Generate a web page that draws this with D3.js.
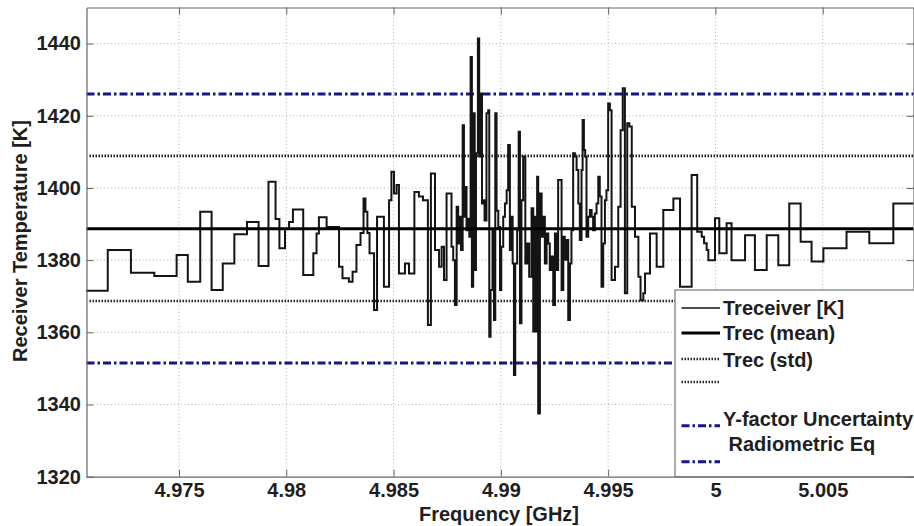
<!DOCTYPE html>
<html>
<head>
<meta charset="utf-8">
<script src="https://cdn.jsdelivr.net/npm/d3@7"></script>
<style>
  body { margin: 0; background: #fff; }
  text { font-family: "Liberation Sans", Arial, sans-serif; font-weight: bold; fill: #1e1e1e; }
</style>
</head>
<body>
<svg id="chart" width="914" height="526"></svg>
<script>
'use strict'

// frequency [GHz] at the start of each step, receiver temperature [K]
var freq = [
  4.97067, 4.97168, 4.97276, 4.97385, 4.97489, 4.97541, 4.97599, 4.97652, 4.97704, 4.97758,
  4.97817, 4.97871, 4.97917, 4.97950, 4.97968, 4.97994, 4.98013, 4.98031, 4.98079, 4.98126,
  4.98141, 4.98152, 4.98188, 4.98246, 4.98262, 4.98292, 4.98309, 4.98327, 4.98346, 4.98360,
  4.98369, 4.98378, 4.98388, 4.98409, 4.98423, 4.98455, 4.98479, 4.98490, 4.98502, 4.98514,
  4.98525, 4.98553, 4.98572, 4.98597, 4.98618, 4.98637, 4.98660, 4.98674, 4.98693, 4.98712,
  4.98724, 4.98735, 4.98747, 4.98770, 4.98778, 4.98786, 4.98794, 4.98801, 4.98809, 4.98814,
  4.98822, 4.98828, 4.98834, 4.98840, 4.98846, 4.98853, 4.98859, 4.98865, 4.98871, 4.98878,
  4.98884, 4.98893, 4.98899, 4.98905, 4.98912, 4.98918, 4.98924, 4.98933, 4.98941, 4.98946,
  4.98952, 4.98961, 4.98968, 4.98974, 4.98980, 4.98988, 4.98996, 4.99002, 4.99011, 4.99019,
  4.99027, 4.99034, 4.99042, 4.99048, 4.99055, 4.99061, 4.99067, 4.99076, 4.99083, 4.99089,
  4.99096, 4.99104, 4.99114, 4.99123, 4.99132, 4.99143, 4.99151, 4.99157, 4.99163, 4.99169,
  4.99174, 4.99182, 4.99190, 4.99197, 4.99205, 4.99213, 4.99221, 4.99228, 4.99236, 4.99244,
  4.99252, 4.99260, 4.99267, 4.99283, 4.99291, 4.99298, 4.99306, 4.99314, 4.99322, 4.99329,
  4.99337, 4.99345, 4.99353, 4.99361, 4.99368, 4.99376, 4.99381, 4.99387, 4.99393, 4.99399,
  4.99407, 4.99415, 4.99423, 4.99430, 4.99438, 4.99446, 4.99454, 4.99461, 4.99469, 4.99477,
  4.99485, 4.99492, 4.99500, 4.99508, 4.99516, 4.99532, 4.99547, 4.99558, 4.99568, 4.99578,
  4.99589, 4.99599, 4.99610, 4.99625, 4.99641, 4.99651, 4.99664, 4.99672, 4.99695, 4.99726,
  4.99757, 4.99804, 4.99835, 4.99889, 4.99915, 4.99936, 4.99947, 4.99959, 4.99967, 4.99998,
  5.00018, 5.00052, 5.00075, 5.00138, 5.00184, 5.00239, 5.00293, 5.00344, 5.00397, 5.00448,
  5.00503, 5.00611, 5.00717, 5.00829, 5.00923
]
var treceiver = [
  1371.5, 1382.8, 1376.5, 1375.6, 1381.4, 1374.0, 1393.4, 1371.7, 1379.1, 1387.2,
  1390.6, 1378.4, 1401.7, 1391.4, 1383.3, 1388.6, 1390.6, 1394.0, 1375.9, 1381.9,
  1387.4, 1391.9, 1389.2, 1378.2, 1375.0, 1374.0, 1376.8, 1384.2, 1387.5, 1397.1,
  1393.4, 1387.5, 1381.9, 1366.2, 1392.0, 1372.6, 1396.6, 1404.5, 1398.5, 1400.8,
  1376.3, 1379.1, 1376.3, 1398.9, 1397.6, 1396.6, 1362.0, 1404.0, 1382.8, 1378.2,
  1383.7, 1374.5, 1398.5, 1383.7, 1380.0, 1367.6, 1394.8, 1384.6, 1392.0, 1382.8,
  1417.4, 1392.0, 1400.3, 1388.3, 1391.5, 1386.5, 1436.3, 1372.6, 1420.7, 1377.3,
  1409.6, 1441.4, 1408.7, 1426.2, 1395.7, 1396.6, 1391.0, 1420.7, 1421.5, 1358.8,
  1371.7, 1388.3, 1363.4, 1420.7, 1393.7, 1389.2, 1371.7, 1383.7, 1392.0, 1395.7,
  1399.4, 1411.9, 1382.8, 1392.0, 1379.1, 1348.2, 1379.1, 1388.3, 1415.6, 1362.5,
  1396.6, 1408.7, 1379.1, 1384.6, 1375.4, 1394.4, 1360.2, 1392.0, 1360.2, 1403.1,
  1337.5, 1398.5, 1386.5, 1392.0, 1379.1, 1387.4, 1384.6, 1377.3, 1381.0, 1367.6,
  1387.4, 1377.3, 1402.2, 1371.7, 1386.5, 1380.1, 1385.6, 1363.4, 1379.1, 1388.3,
  1409.6, 1408.7, 1405.0, 1395.7, 1385.6, 1405.0, 1418.8, 1410.5, 1408.7, 1386.5,
  1392.0, 1393.9, 1392.0, 1388.3, 1392.9, 1395.7, 1403.1, 1397.6, 1372.6, 1384.6,
  1396.6, 1399.4, 1423.4, 1421.5, 1374.5, 1378.2, 1394.8, 1416.0, 1427.6, 1370.8,
  1417.9, 1417.0, 1394.8, 1386.5, 1375.4, 1368.9, 1370.8, 1376.3, 1387.4, 1378.2,
  1393.9, 1397.1, 1372.6, 1403.6, 1387.9, 1386.5, 1384.7, 1382.8, 1380.0, 1391.6,
  1381.9, 1390.2, 1380.0, 1386.9, 1377.3, 1386.9, 1378.6, 1395.7, 1385.1, 1379.6,
  1383.3, 1387.9, 1384.7, 1395.7, 1395.7
]

var trecMean = [1388.7]
var trecStd = [1368.7, 1408.9]
var yFactor = [1351.5, 1426.0]

var xTicks = [4.975, 4.98, 4.985, 4.99, 4.995, 5, 5.005]
var xTickLabels = ['4.975', '4.98', '4.985', '4.99', '4.995', '5', '5.005']
var yTicks = [1320, 1340, 1360, 1380, 1400, 1420, 1440]

var legendLabels = [['Treceiver [K]'], ['Trec (mean)'], ['Trec (std)'], [], ['Y-factor Uncertainty', ' Radiometric Eq'], []]

var svg = d3.select('#chart')
var pLeft = 86.5
var pRight = 913.5
var pTop = 7.5
var pBottom = 476.7

var x = d3.scaleLinear().domain([4.97069, 5.00923]).range([pLeft, pRight])
var y = d3.scaleLinear().domain([1320, 1450]).range([pBottom, pTop])

var navy = '#16168a'
var fontSize = '20px'
var stdDash = '1.5,1.5'

// grid
var grid = svg.append('g')
grid.selectAll('.vg').data(xTicks).join('line')
  .attr('x1', d => x(d)).attr('x2', d => x(d))
  .attr('y1', pTop).attr('y2', pBottom)
  .attr('stroke', '#b0b0b0').attr('stroke-width', 1).attr('stroke-dasharray', '1,2.5')
grid.selectAll('.hg').data(yTicks.slice(1)).join('line')
  .attr('x1', pLeft).attr('x2', pRight)
  .attr('y1', d => y(d)).attr('y2', d => y(d))
  .attr('stroke', '#b0b0b0').attr('stroke-width', 1).attr('stroke-dasharray', '1,2.5')

var plot = svg.append('g')

// reference levels
plot.selectAll('.std').data(trecStd).join('line')
  .attr('x1', pLeft + 3).attr('x2', pRight)
  .attr('y1', d => y(d)).attr('y2', d => y(d))
  .attr('stroke', '#222').attr('stroke-width', 2.6).attr('stroke-dasharray', stdDash)

plot.selectAll('.yf').data(yFactor).join('line')
  .attr('x1', pLeft).attr('x2', pRight)
  .attr('y1', d => y(d)).attr('y2', d => y(d))
  .attr('stroke', navy).attr('stroke-width', 3).attr('stroke-dasharray', '8,3,2.5,3')

var pts = freq.map((f, i) => [f, treceiver[i]])
var line = d3.line().x(d => x(d[0])).y(d => y(d[1])).curve(d3.curveStepAfter)
plot.append('path')
  .datum(pts)
  .attr('d', line)
  .attr('fill', 'none')
  .attr('stroke', '#141414')
  .attr('stroke-width', 2)

plot.selectAll('.mean').data(trecMean).join('line')
  .attr('x1', pLeft).attr('x2', pRight)
  .attr('y1', d => y(d)).attr('y2', d => y(d))
  .attr('stroke', '#000').attr('stroke-width', 3.2)

// axes, MATLAB style box with inward ticks
var axisColor = '#666'
function styleAxis (g) {
  g.select('.domain').attr('stroke', axisColor).attr('stroke-width', 1.2)
  g.selectAll('.tick line').attr('stroke', axisColor)
  g.selectAll('.tick text').style('font-size', fontSize).attr('fill', '#1e1e1e')
}

svg.append('g')
  .attr('transform', 'translate(0,' + pBottom + ')')
  .call(d3.axisBottom(x).tickValues(xTicks).tickFormat((d, i) => xTickLabels[i]).tickSizeInner(-7).tickSizeOuter(0).tickPadding(6))
  .call(styleAxis)
  .selectAll('.tick text').attr('y', 6)

svg.append('g')
  .attr('transform', 'translate(0,' + pTop + ')')
  .call(d3.axisTop(x).tickValues(xTicks).tickFormat('').tickSizeInner(-7).tickSizeOuter(0))
  .call(styleAxis)

svg.append('g')
  .attr('transform', 'translate(' + pLeft + ',0)')
  .call(d3.axisLeft(y).tickValues(yTicks).tickFormat(d3.format('d')).tickSizeInner(-7).tickSizeOuter(0).tickPadding(5.5))
  .call(styleAxis)
  .selectAll('.tick text').attr('x', -5.5)

svg.append('g')
  .attr('transform', 'translate(' + pRight + ',0)')
  .call(d3.axisRight(y).tickValues(yTicks).tickFormat('').tickSizeInner(-7).tickSizeOuter(0))
  .call(styleAxis)

// axis titles
svg.append('text')
  .attr('x', 499).attr('y', 514).attr('dy', '0.35em')
  .attr('text-anchor', 'middle')
  .style('font-size', fontSize)
  .text('Frequency [GHz]')

svg.append('text')
  .attr('transform', 'translate(20,241) rotate(-90)')
  .attr('dy', '0.35em')
  .attr('text-anchor', 'middle')
  .style('font-size', fontSize)
  .text('Receiver Temperature [K]')

// legend
var lg = svg.append('g')
lg.append('rect')
  .attr('x', 675).attr('y', 290)
  .attr('width', 245).attr('height', pBottom - 290)
  .attr('fill', '#fff').attr('stroke', '#777').attr('stroke-width', 1.2)

var sampleY = [308, 333, 359, 382, 425.7, 461.7]
var sampleStyle = [
  { stroke: '#141414', w: 1.5, dash: null },
  { stroke: '#000', w: 3.2, dash: null },
  { stroke: '#222', w: 2.6, dash: stdDash },
  { stroke: '#222', w: 2.6, dash: stdDash },
  { stroke: navy, w: 3, dash: '8,3,2.5,3' },
  { stroke: navy, w: 3, dash: '8,3,2.5,3' }
]
lg.selectAll('.sample').data(sampleStyle).join('line')
  .attr('x1', 681.5).attr('x2', 720)
  .attr('y1', (d, i) => sampleY[i]).attr('y2', (d, i) => sampleY[i])
  .attr('stroke', d => d.stroke)
  .attr('stroke-width', d => d.w)
  .attr('stroke-dasharray', d => d.dash)

var textY = [[308], [333], [360], [], [419, 444], []]
legendLabels.forEach(function (lines, i) {
  lines.forEach(function (s, j) {
    lg.append('text')
      .attr('x', 723).attr('y', textY[i][j]).attr('dy', '0.35em')
      .attr('xml:space', 'preserve')
      .style('white-space', 'pre')
      .style('font-size', fontSize)
      .text(s)
  })
})
</script>
</body>
</html>
